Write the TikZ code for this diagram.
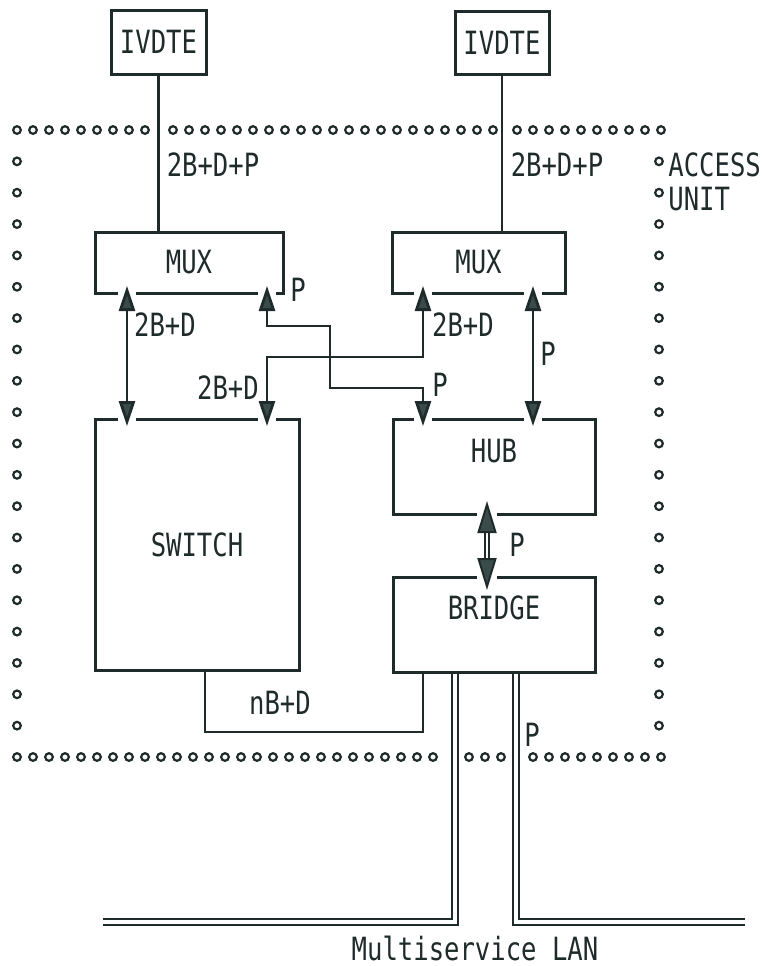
\documentclass[tikz,border=0pt]{standalone}
\usepackage{fontspec}
\newfontfamily\diagfont[FakeStretch=0.8]{DejaVu Sans Mono}
\usepackage{tikz}
\usetikzlibrary{arrows.meta,calc}
\definecolor{ink}{HTML}{1F2B2A}
\definecolor{tipgray}{HTML}{3A4C49}
\newcommand{\lbl}{\diagfont\fontsize{16}{17}\selectfont}

\begin{document}
\begin{tikzpicture}[
  x=0.5pt, y=-0.5pt,
  box/.style={draw=ink, line width=1.5pt, inner sep=0pt, outer sep=0pt,
              font=\lbl, text=ink},
  tag/.style={font=\lbl, text=ink, inner sep=1pt},
  wire/.style={draw=ink, line width=1.4pt},
  sig/.style={wire, {Triangle[length=12.5pt,width=8pt,fill=tipgray]}-{Triangle[length=12.5pt,width=8pt,fill=tipgray]},
              shorten <=-3.5pt, shorten >=-3.5pt},
  bigsig/.style={draw=ink, line width=1pt, double=white, double distance=1.4pt,
                 {Triangle[length=16pt,width=9.5pt,fill=tipgray]}-{Triangle[length=16pt,width=9.5pt,fill=tipgray]},
                 shorten <=-6.5pt, shorten >=-6.5pt},
  lan/.style={draw=ink, line width=1pt, double=white, double distance=1.6pt},
  dot/.style={draw=ink, line width=1.1pt},
]
  \useasboundingbox (0,0) rectangle (762,966);

  % Access unit border (dotted)
  \foreach \x in {17,33,...,145,173,189,...,493,517,533,...,661}
    \draw[dot] (\x,130) circle[radius=1.9pt];
  \foreach \x in {17,33,...,433,469,485,501,533,549,...,661}
    \draw[dot] (\x,757) circle[radius=1.9pt];
  \foreach \i in {1,...,19}{
    \draw[dot] (17,130+31.35*\i) circle[radius=1.9pt];
    \draw[dot] (659,130+31.35*\i) circle[radius=1.9pt];
  }

  % Boxes
  \node[box, minimum width=47.5pt, minimum height=32pt] (ivdteL) at (158.5,42) {IVDTE};
  \node[box, minimum width=47pt, minimum height=31.5pt] (ivdteR) at (502,42.5) {IVDTE};
  \node[box, minimum width=94pt, minimum height=30.5pt] (muxL) at (189,262.5) {MUX};
  \node[box, minimum width=86.5pt, minimum height=30.5pt] (muxR) at (478.5,262.5) {MUX};
  \node[box, minimum width=102pt, minimum height=125.5pt] (switch) at (197,544.5) {SWITCH};
  \node[box, minimum width=101pt, minimum height=47.5pt, text depth=16pt] (hub) at (494,466.5) {HUB};
  \node[box, minimum width=101pt, minimum height=47.5pt, text depth=17pt] (bridge) at (494,624.5) {BRIDGE};

  % Columns of the connectors
  \coordinate (xa) at (127,0);
  \coordinate (xb) at (267,0);
  \coordinate (xc) at (423,0);
  \coordinate (xd) at (533,0);
  \coordinate (xe) at (487,0);
  \coordinate (xf) at (455,0);
  \coordinate (xg) at (516,0);
  \coordinate (xh) at (205,0);

  % Gaps in the box edges round the arrow heads
  \foreach \p in {{127,293},{267,293},{423,293},{533,293},{127,419},{267,419},{423,419},{533,419}}
    \fill[white] (\p) +(-9,-3) rectangle +(9,3);
  \foreach \p in {{487,514},{487,577}}
    \fill[white] (\p) +(-10,-3) rectangle +(10,3);

  % Links
  \draw[wire] (ivdteL) -- (ivdteL |- muxL.north);
  \draw[wire] (ivdteR) -- (ivdteR |- muxR.north);
  \draw[sig] (muxL.south -| xa) -- (switch.north -| xa);
  \draw[sig] (muxL.south -| xb) -- (267,326) -- (330,326) -- (330,388) -- (423,388) -- (hub.north -| xc);
  \draw[sig] (muxR.south -| xc) -- (423,357) -- (267,357) -- (switch.north -| xb);
  \draw[sig] (muxR.south -| xd) -- (hub.north -| xd);
  \draw[bigsig] (hub.south -| xe) -- (bridge.north -| xe);
  \draw[wire] (switch.south -| xh) -- (205,732) -- (423,732) -- (bridge.south -| xc);
  \draw[lan, shorten <=0.75pt] (bridge.south -| xf) -- (455,922) -- (103,922);
  \draw[lan, shorten <=0.75pt] (bridge.south -| xg) -- (516,922) -- (745,922);

  % Labels
  \node[tag] (rateL) at (213,165) {2B+D+P};
  \node[tag] (rateR) at (557,165) {2B+D+P};
  \node[tag] (pMux) at (298,290) {P};
  \node[tag] (bdL) at (165,325) {2B+D};
  \node[tag] (bdSw) at (228,388) {2B+D};
  \node[tag] (bdR) at (463,325) {2B+D};
  \node[tag] (pHubL) at (440,385) {P};
  \node[tag] (pHubR) at (548,354) {P};
  \node[tag] (pBr) at (517,545) {P};
  \node[tag] (nbd) at (280,703) {nB+D};
  \node[tag] (pLan) at (532,735) {P};
  \node[tag] (lanName) at (475,948) {Multiservice LAN};
  \node[tag, anchor=west, align=left] (unit) at (666,182) {ACCESS\\UNIT};
\end{tikzpicture}
\end{document}
